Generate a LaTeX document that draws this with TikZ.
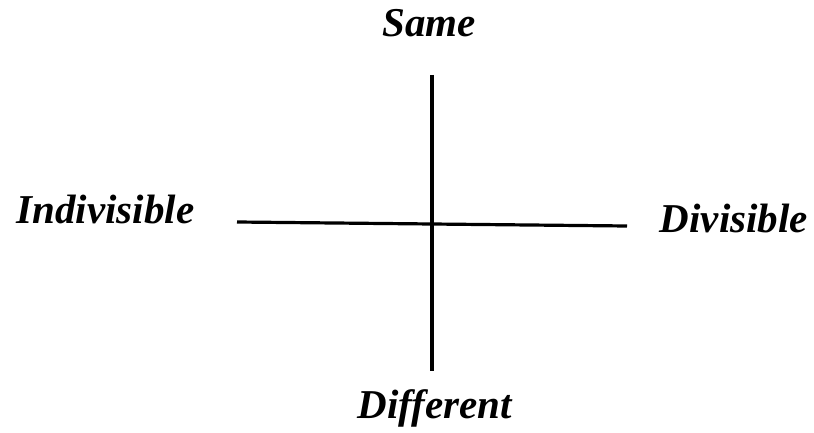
\documentclass[tikz,border=0pt]{standalone}
\usepackage{fontspec}
\setmainfont{Liberation Serif}
\begin{document}
\begin{tikzpicture}[x=1pt,y=1pt,
  lbl/.style={font=\fontsize{41}{48}\selectfont\bfseries\itshape, inner sep=0pt, anchor=base},
  axis/.style={line width=3.2pt}]
\useasboundingbox (0,0) rectangle (814,432);
\node[lbl] (same) at (429,395) {Same};
\node[lbl] (diff) at (435,14) {Different};
\node[lbl] (indiv) at (105.5,209) {Indivisible};
\node[lbl] (div) at (734,200) {Divisible};
\coordinate (top) at (432,357);
\coordinate (bot) at (432,61);
\coordinate (lft) at (237,210);
\coordinate (rgt) at (627,206);
\draw[axis] (top) -- (bot);
\draw[axis] (lft) -- (rgt);
\end{tikzpicture}
\end{document}
